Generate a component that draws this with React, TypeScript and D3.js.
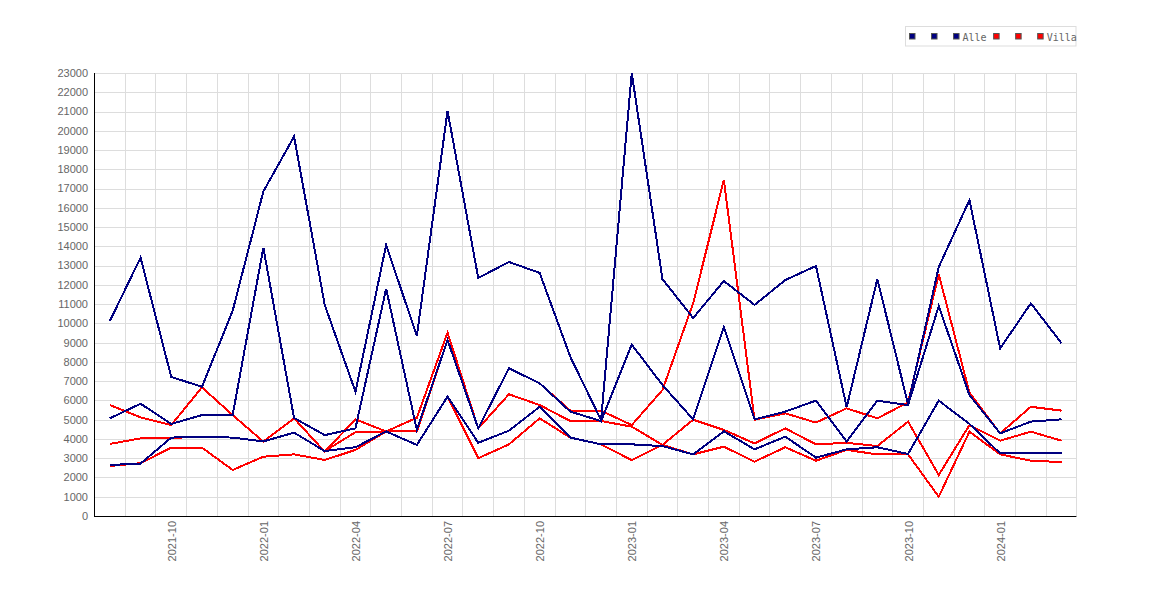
import React from "react";
import * as d3 from "d3";

const months = [
  "2021-08", "2021-09", "2021-10", "2021-11", "2021-12",
  "2022-01", "2022-02", "2022-03", "2022-04", "2022-05", "2022-06",
  "2022-07", "2022-08", "2022-09", "2022-10", "2022-11", "2022-12",
  "2023-01", "2023-02", "2023-03", "2023-04", "2023-05", "2023-06",
  "2023-07", "2023-08", "2023-09", "2023-10", "2023-11", "2023-12",
  "2024-01", "2024-02", "2024-03",
];

const alleHigh = [
  10120, 13410, 7220, 6710, 10650, 16850, 19700, 10960, 6450, 14070, 9350,
  21030, 12360, 13190, 12620, 8260, 4980, 23000, 12300, 10280, 12200, 10960,
  12250, 12980, 5650, 12300, 5800, 12930, 16400, 8700, 11040, 8970,
];
const alleMid = [
  5070, 5830, 4780, 5240, 5240, 13930, 5090, 4200, 4550, 11800, 4470, 9140,
  4550, 7670, 6890, 5420, 4930, 8900, 6800, 5020, 9800, 5020, 5420, 5990,
  3860, 5990, 5760, 10900, 6280, 4290, 4900, 5020,
];
const alleLow = [
  2650, 2720, 4070, 4120, 4070, 3870, 4330, 3370, 3570, 4390, 3690, 6200,
  3800, 4430, 5670, 4070, 3720, 3720, 3630, 3200, 4400, 3460, 4120, 3030,
  3460, 3570, 3220, 5990, 4780, 3250, 3290, 3290,
];
const villaHigh = [
  5760, 5120, 4720, 6680, 5240, 3860, 5070, 3340, 5020, 4390, 5100, 9520,
  4550, 7670, 6890, 5470, 5470, 4720, 6540, 11050, 17450, 5000, 5330, 4850,
  5590, 5070, 5900, 12550, 6400, 4290, 5670, 5470,
];
const villaMid = [
  3740, 4030, 4050, 4120, 4070, 3870, 4330, 3370, 4350, 4390, 4390, 9140,
  4550, 6320, 5760, 4930, 4930, 4640, 3690, 5000, 4470, 3770, 4550, 3720,
  3800, 3630, 4900, 2130, 4720, 3910, 4380, 3910,
];
const villaLow = [
  2600, 2740, 3550, 3550, 2390, 3080, 3200, 2910, 3430, 4390, 3690, 6200,
  3000, 3720, 5070, 4070, 3720, 2900, 3690, 3200, 3600, 2820, 3570, 2870,
  3430, 3200, 3200, 1000, 4380, 3200, 2870, 2800,
];

const yTicks = d3.range(0, 23001, 1000);
const xLabelMonths = months.filter((m) => ["01", "04", "07", "10"].includes(m.slice(5)));

const seriesNames = [" ", " ", "Alle", " ", " ", "Villa"];
const seriesColors = ["#000080", "#000080", "#000080", "#ff0000", "#ff0000", "#ff0000"];
const seriesData = [alleHigh, alleMid, alleLow, villaHigh, villaMid, villaLow];
// draw order: Villa first, Alle on top
const drawOrder = [3, 4, 5, 0, 1, 2];

export default function App() {
  const W = 1170;
  const H = 600;
  const left = 94;
  const right = 1076.4;
  const top = 73;
  const bottom = 516;

  const x = d3.scaleBand<string>().domain(months).range([left, right]).padding(0);
  const step = x.step();
  const cx = (m: string) => (x(m) as number) + x.bandwidth() / 2;
  const y = d3.scaleLinear().domain([0, 23000]).range([bottom, top]);

  const line = d3
    .line<number>()
    .x((_, i) => cx(months[i]) + 0.5)
    .y((d) => y(d));

  const axisFont = "'Liberation Sans', Arial, sans-serif";
  const legendFont = "'DejaVu Sans Mono', monospace";
  const textColor = "#666";

  // legend layout
  const charW = 6.02;
  let lx = 909.5;
  const legendItems = seriesNames.map((name, i) => {
    const item = { x: lx, name, color: seriesColors[i] };
    lx += 6 + 3.4 + name.length * charW + 6.6;
    return item;
  });

  return (
    <svg
      width={W}
      height={H}
      style={{ position: "absolute", left: 0, top: 0, background: "#fff" }}
    >
      <rect x={0} y={0} width={W} height={H} fill="#fff" />
      {/* horizontal grid */}
      {yTicks.map((v) => (
        <line
          key={"h" + v}
          x1={left}
          x2={right}
          y1={Math.round(y(v)) + 0.5}
          y2={Math.round(y(v)) + 0.5}
          stroke="#dddddd"
          strokeWidth={1}
        />
      ))}
      {/* vertical grid at band edges */}
      {months.map((m, i) => {
        const gx = Math.round(left + (i + 1) * step) + 0.5;
        return (
          <line key={"v" + m} x1={gx} x2={gx} y1={top} y2={bottom} stroke="#dddddd" strokeWidth={1} />
        );
      })}
      {/* series */}
      {drawOrder.map((si) => (
        <path
          key={"s" + si}
          d={line(seriesData[si]) || ""}
          fill="none"
          stroke={seriesColors[si]}
          strokeWidth={2}
          strokeLinejoin="miter"
          shapeRendering="crispEdges"
        />
      ))}
      {/* axes */}
      <line x1={left + 0.5} x2={left + 0.5} y1={top} y2={bottom + 0.5} stroke="#000" strokeWidth={1} />
      <line x1={left} x2={right} y1={bottom + 0.5} y2={bottom + 0.5} stroke="#000" strokeWidth={1} />
      {/* y labels */}
      {yTicks.map((v) => (
        <text
          key={"yl" + v}
          x={88}
          y={y(v)}
          dy="0.35em"
          textAnchor="end"
          fontFamily={axisFont}
          fontSize={11}
          fill={textColor}
        >
          {v}
        </text>
      ))}
      {/* x labels */}
      {xLabelMonths.map((m) => (
        <text
          key={"xl" + m}
          transform={`translate(${cx(m) + 5},521) rotate(-90)`}
          textAnchor="end"
          fontFamily={axisFont}
          fontSize={11}
          fill={textColor}
        >
          {m}
        </text>
      ))}
      {/* legend */}
      <rect x={905.5} y={26.5} width={170.5} height={19.5} fill="#fff" stroke="#dddddd" strokeWidth={1} />
      {legendItems.map((it, i) => (
        <g key={"lg" + i}>
          <rect x={it.x} y={33.5} width={5.5} height={5.5} fill={it.color} stroke="#555" strokeWidth={1} />
          <text
            x={it.x + 6 + 3}
            y={40.5}
            fontFamily={legendFont}
            fontSize={10}
            fill={textColor}
            style={{ whiteSpace: "pre" }}
          >
            {it.name}
          </text>
        </g>
      ))}
    </svg>
  );
}
